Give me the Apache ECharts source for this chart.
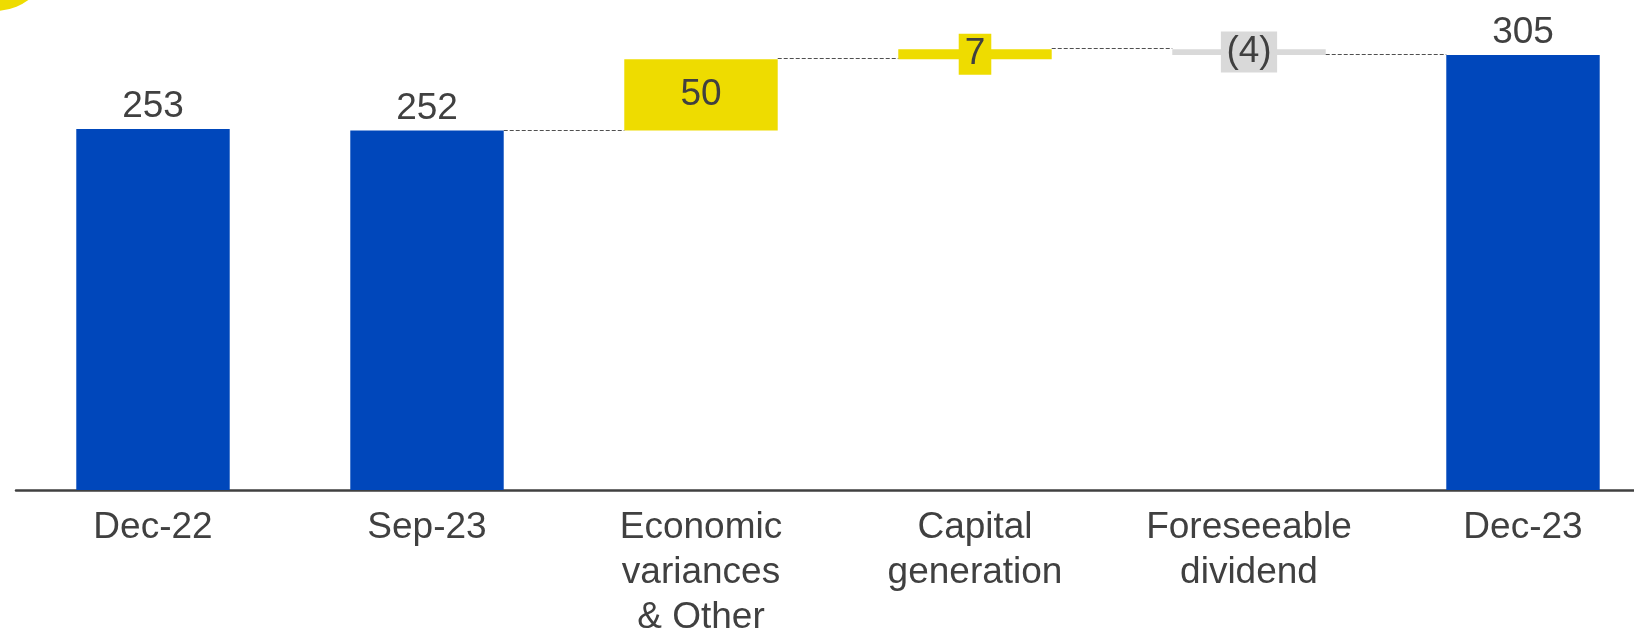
<!DOCTYPE html>
<html>
<head>
<meta charset="utf-8">
<script src="https://cdn.jsdelivr.net/npm/echarts@6/dist/echarts.min.js"></script>
<style>
html,body{margin:0;padding:0;background:#fff;overflow:hidden;}
#chart{width:1634px;height:632px;}
</style>
</head>
<body>
<div id="chart"></div>
<script>
// ---- data ----
const categories = ['Dec-22', 'Sep-23', 'Economic\nvariances\n& Other', 'Capital\ngeneration', 'Foreseeable\ndividend', 'Dec-23'];
const totals  = [253, 252, null, null, null, 305];
const changes = [null, null, 50, 7, -4, null];

// ---- derived stacks ----
const baseData = [], totalData = [], incData = [], decData = [], connectors = [];
let running = 0;
for (let i = 0; i < categories.length; i++) {
  if (totals[i] != null) {
    running = totals[i];
    baseData.push(null); totalData.push(totals[i]); incData.push(null); decData.push(null);
  } else {
    const c = changes[i];
    if (c >= 0) {
      baseData.push(running); incData.push(c); decData.push(null);
      running += c;
    } else {
      running += c;
      baseData.push(running); decData.push(-c); incData.push(null);
    }
    totalData.push(null);
  }
}
// connector levels: from bar i to bar i+1 (starting at Sep-23)
(function () {
  let lvl = totals[1];
  for (let i = 1; i < categories.length - 1; i++) {
    if (i > 1) lvl += changes[i];
    connectors.push([i, lvl]);
  }
})();

const BLUE = '#0047BB', YELLOW = '#EEDC00', GREY = '#D9D9D9', TEXT = '#404040';
const GAP = 0.44;
const FONT = '"Liberation Sans", Arial, sans-serif';

const chart = echarts.init(document.getElementById('chart'), null, {renderer: 'canvas'});
chart.setOption({
  animation: false,
  backgroundColor: '#ffffff',
  textStyle: {fontFamily: FONT},
  graphic: [{
    type: 'circle',
    shape: {cx: -5, cy: -45, r: 56},
    style: {fill: YELLOW}, silent: true, z: 10
  }],
  grid: {left: 16, width: 1644, top: 5, bottom: 142, containLabel: false, outerBoundsMode: 'none'},
  xAxis: {
    type: 'category',
    data: categories,
    axisLine: {lineStyle: {color: TEXT, width: 2.5}},
    axisTick: {show: false},
    axisLabel: {color: TEXT, fontSize: 37, lineHeight: 45, margin: 15, fontFamily: FONT, interval: 0}
  },
  yAxis: {type: 'value', min: 0, max: 340, show: false, splitLine: {show: false}},
  series: [
    {
      name: 'base', type: 'bar', stack: 'w', data: baseData,
      itemStyle: {color: 'transparent'}, barCategoryGap: (GAP * 100) + '%', silent: true
    },
    {
      name: 'total', type: 'bar', stack: 'w', data: totalData,
      itemStyle: {color: BLUE},
      label: {show: true, position: 'top', distance: 3, color: TEXT, fontSize: 37, lineHeight: 38, fontFamily: FONT}
    },
    {
      name: 'increase', type: 'bar', stack: 'w', data: incData,
      itemStyle: {color: YELLOW},
      label: {
        show: true, position: 'inside', color: TEXT, fontSize: 37, lineHeight: 38, fontFamily: FONT,
        backgroundColor: YELLOW, padding: [1.5, 6, 1.5, 6]
      }
    },
    {
      name: 'decrease', type: 'bar', stack: 'w', data: decData,
      itemStyle: {color: GREY},
      label: {
        show: true, position: 'inside', color: TEXT, fontSize: 37, lineHeight: 38, fontFamily: FONT,
        backgroundColor: GREY, padding: [1.5, 5.5, 1.5, 5.5],
        formatter: p => '(' + p.value + ')'
      }
    },
    {
      name: 'connectors', type: 'custom', data: connectors, z: 5, silent: true,
      renderItem: function (params, api) {
        const p = api.coord([api.value(0), api.value(1)]);
        const band = api.size([1, 0])[0];
        const half = band * (1 - GAP) / 2;
        const y = Math.round(p[1]) - 0.5;
        return {
          type: 'line',
          shape: {x1: p[0] + half, y1: y, x2: p[0] + band - half, y2: y},
          style: {stroke: '#505050', lineWidth: 1, lineDash: [4, 2]}
        };
      }
    }
  ]
});
</script>
</body>
</html>
